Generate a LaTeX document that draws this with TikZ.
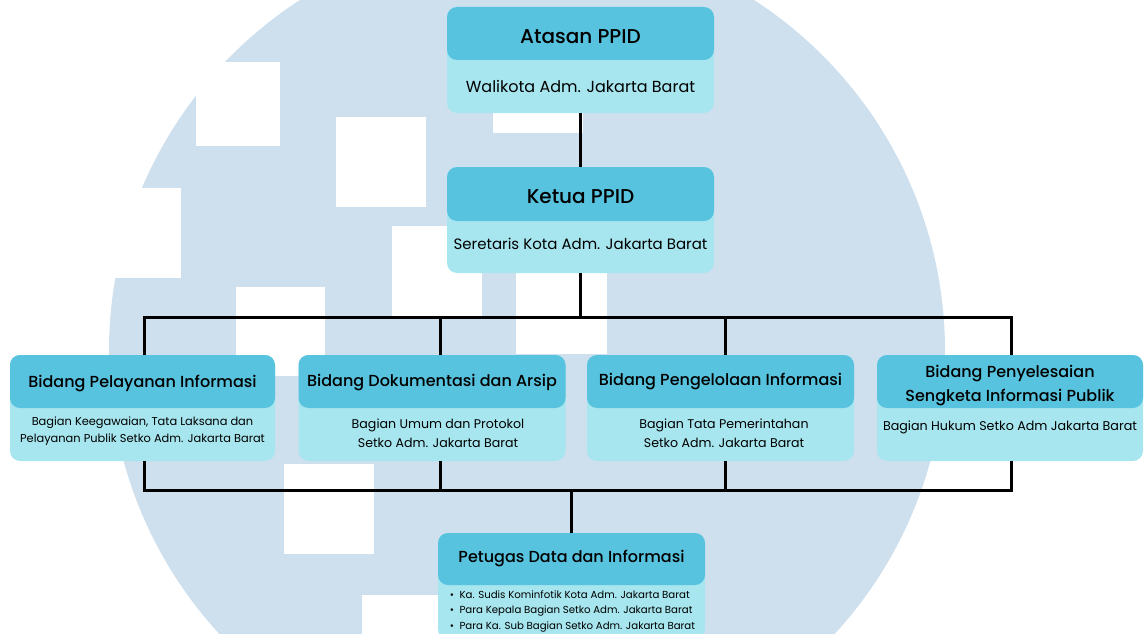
\documentclass[tikz,border=0pt]{standalone}
\usepackage{fontspec}
\setmainfont{Poppins}
\newfontfamily\medfont{Poppins Medium}
\definecolor{kepala}{HTML}{57C3DE}
\definecolor{isi}{HTML}{A7E6EF}
\definecolor{latar}{HTML}{CEDFEE}
\begin{document}
\begin{tikzpicture}[x=1pt,y=-1pt,line join=miter,
	kotak/.style={fill=isi,rounded corners=10pt,inner sep=0pt,minimum width=267pt,minimum height=106pt},
	judul/.style={fill=kepala,rounded corners=10pt,inner sep=0pt,anchor=north,minimum width=267pt,minimum height=53pt},
	besar/.style={font=\medfont\fontsize{20}{24}\selectfont},
	sedang/.style={font=\medfont\fontsize{16}{24}\selectfont,align=center},
	isian/.style={font=\fontsize{12.6}{19}\selectfont,align=center},
	garis/.style={line width=3pt,black}] %Struktur PPID
	\useasboundingbox (0,0) rectangle (1144,634);
	\clip (0,0) rectangle (1144,634);
	% latar belakang
	\fill[latar] (527,351) circle (418pt);
	\foreach \x/\y/\s in {196/62/84, 336/117/90, 91/188/90, 236/287/89, 392/226/90, 516/263/91, 493/43/90, 284/464/90, 362/595/90}
		\fill[white] (\x,\y) rectangle ++(\s,\s);
	% atasan dan ketua
	\node[kotak] (atasan) at (580.5,60) {};
	\node[judul] (atasanj) at (atasan.north) {};
	\node[besar] (atasant) at (580.5,37) {Atasan PPID};
	\node[font=\fontsize{16}{18}\selectfont] (atasanb) at (580.5,86) {Walikota Adm. Jakarta Barat};
	\node[kotak] (ketua) at (580.5,220) {};
	\node[judul,minimum height=54pt] (ketuaj) at (ketua.north) {};
	\node[besar] (ketuat) at (580.5,197) {Ketua PPID};
	\node[font=\fontsize{15}{18}\selectfont] (ketuab) at (580.5,244) {Seretaris Kota Adm. Jakarta Barat};
	% bidang
	\node[kotak,minimum width=265pt] (pel) at (142.5,408) {};
	\node[judul,minimum width=265pt] (pelj) at (pel.north) {};
	\node[sedang] (pelt) at (142.5,383) {Bidang Pelayanan Informasi};
	\node[isian,font=\fontsize{11.4}{17}\selectfont] (pelb) at (142.5,431) {Bagian Keegawaian, Tata Laksana dan\\Pelayanan Publik Setko Adm. Jakarta Barat};
	\node[kotak] (dok) at (432,408) {};
	\node[judul] (dokj) at (dok.north) {};
	\node[sedang] (dokt) at (432,383) {Bidang Dokumentasi dan Arsip};
	\node[isian] (dokb) at (438,433) {Bagian Umum dan Protokol\\Setko Adm. Jakarta Barat};
	\node[kotak] (pen) at (720.5,408) {};
	\node[judul] (penj) at (pen.north) {};
	\node[sedang] (pent) at (720.5,381) {Bidang Pengelolaan Informasi};
	\node[isian] (penb) at (724,433) {Bagian Tata Pemerintahan\\Setko Adm. Jakarta Barat};
	\node[kotak,minimum width=266pt] (sen) at (1010,408) {};
	\node[judul,minimum width=266pt] (senj) at (sen.north) {};
	\node[sedang] (sent) at (1010,386) {Bidang Penyelesaian\\Sengketa Informasi Publik};
	\node[isian,font=\fontsize{12.7}{19}\selectfont] (senb) at (1010,427) {Bagian Hukum Setko Adm Jakarta Barat};
	% petugas
	\node[kotak] (pet) at (571.5,586) {};
	\node[judul,minimum height=52pt] (petj) at (pet.north) {};
	\node[sedang] (pett) at (571.5,558) {Petugas Data dan Informasi};
	\node[font=\fontsize{10.2}{15.5}\selectfont,align=left] (petb) at (572.5,611) {\textbullet\ \ Ka. Sudis Kominfotik Kota Adm. Jakarta Barat\\\textbullet\ \ Para Kepala Bagian Setko Adm. Jakarta Barat\\\textbullet\ \ Para Ka. Sub Bagian Setko Adm. Jakarta Barat};
	% garis
	\coordinate (a1) at (144,317);
	\coordinate (a2) at (440,317);
	\coordinate (a3) at (725,317);
	\coordinate (a4) at (1011,317);
	\coordinate (b1) at (144,490);
	\coordinate (b2) at (440,490);
	\coordinate (b3) at (725,490);
	\coordinate (b4) at (1011,490);
	\draw[garis] (atasan.south) -- (ketua.north);
	\draw[garis] (ketua.south) -- (ketua.south |- a1);
	\draw[garis] (pel.north -| a1) -- (a1) -- (a4) -- (sen.north -| a4);
	\draw[garis] (dok.north -| a2) -- (a2);
	\draw[garis] (pen.north -| a3) -- (a3);
	\draw[garis] (pel.south -| b1) -- (b1) -- (b4) -- (sen.south -| b4);
	\draw[garis] (dok.south -| b2) -- (b2);
	\draw[garis] (pen.south -| b3) -- (b3);
	\draw[garis] (pet.north) -- (pet.north |- b1);
\end{tikzpicture}
\end{document}
